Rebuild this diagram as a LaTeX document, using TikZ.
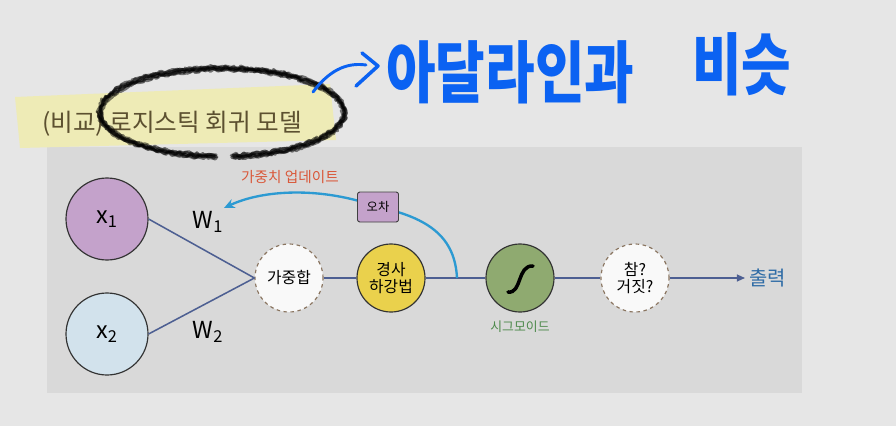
\documentclass[tikz,border=0pt]{standalone}
\usepackage{fontspec}
\setmainfont{Noto Sans CJK KR}
\usetikzlibrary{arrows.meta, decorations.pathmorphing}

\definecolor{pagegray}{HTML}{E6E6E6}
\definecolor{panelgray}{HTML}{D9D9D9}
\definecolor{marker}{HTML}{EEEBB6}
\definecolor{titletext}{HTML}{5C5030}
\definecolor{penblue}{HTML}{0B62F2}
\definecolor{wireblue}{HTML}{4D5F92}
\definecolor{loopblue}{HTML}{2C9AD2}
\definecolor{xonefill}{HTML}{C4A2CB}
\definecolor{xtwofill}{HTML}{D2E2EC}
\definecolor{gdfill}{HTML}{EAD14C}
\definecolor{sigfill}{HTML}{8FAA70}
\definecolor{siggreen}{HTML}{4E8A4C}
\definecolor{updred}{HTML}{D9583A}
\definecolor{outblue}{HTML}{2F6CA6}
\definecolor{dashbrown}{HTML}{8A7560}

\tikzset{
  inputnode/.style={circle, draw=black!80, line width=1pt, minimum size=82*0.03cm, inner sep=0pt,
    font=\fontsize{20}{22}\selectfont},
  stepnode/.style={circle, draw=black!80, line width=1pt, minimum size=68*0.03cm, inner sep=0pt,
    font=\fontsize{13.5}{16}\selectfont, align=center},
  dashnode/.style={stepnode, draw=dashbrown, dashed, fill=white!95!gray},
  wire/.style={wireblue, line width=1.3pt},
  wlabel/.style={font=\fontsize{20}{22}\selectfont},
  scribble/.style={black, line width=2.4pt, opacity=0.5, line join=round, line cap=round,
    decorate, decoration={random steps, segment length=2pt, amplitude=1.3pt}}
}

\begin{document}
\begin{tikzpicture}[x=0.03cm, y=-0.03cm, thick]

    % --- Page and panel ---
    \fill[pagegray] (0,0) rectangle (896,426);
    \useasboundingbox (0,0) rectangle (896,426);
    \fill[panelgray] (47,147) rectangle (802,393);

    % --- Title with marker and scribbled ring ---
    \fill[marker] (15,97) -- (330,84) -- (336,140) -- (20,148) -- cycle;
    \node[text=titletext, font=\fontsize{21}{24}\selectfont] (title) at (172,124) {(비교) 로지스틱 회귀 모델};
    \foreach \dx/\dy in {0/0, 1.5/1, -1/1.5, 0.5/-1.2, -1.5/-0.5, 1/2} {
      \draw[scribble] (222+\dx,112+\dy) ++(93:122 and 44) arc[start angle=93, end angle=445, x radius=122, y radius=44];
    }

    % --- Handwritten note ---
    \coordinate (penstart) at (313,92);
    \coordinate (penend) at (366,65);
    \draw[penblue, line width=2.5pt, line cap=round] (penstart) .. controls (328,72) and (345,62) .. (penend);
    \draw[penblue, line width=3pt, line cap=round, line join=round] (362,53) -- (378,66) -- (356,86);
    \node[text=penblue, font=\fontsize{46}{50}\selectfont\bfseries, anchor=west, yscale=1.25] (note) at (382,72) {아달라인과};
    \node[text=penblue, font=\fontsize{46}{50}\selectfont\bfseries, anchor=west, yscale=1.25] (note2) at (688,64) {비슷};

    % --- Inputs ---
    \node[inputnode, fill=xonefill] (x1) at (107,219) {x\textsubscript{1}};
    \node[inputnode, fill=xtwofill] (x2) at (107,334) {x\textsubscript{2}};
    \node[wlabel] (w1) at (208,222) {W\textsubscript{1}};
    \node[wlabel] (w2) at (208,332) {W\textsubscript{2}};

    % --- Chain of steps ---
    \node[dashnode] (sum) at (289,278) {가중합};
    \node[stepnode, fill=gdfill] (gd) at (391,278) {경사\\[-2pt]하강법};
    \node[stepnode, fill=sigfill] (sig) at (520,278) {};
    \node[dashnode] (tf) at (635,278) {참?\\[-2pt]거짓?};
    \node[text=outblue, font=\fontsize{17}{20}\selectfont, anchor=west] (out) at (745,278) {출력};
    \node[text=siggreen, font=\fontsize{11}{13}\selectfont] (siglabel) at (520,327) {시그모이드};

    % sigmoid curve
    \begin{scope}[shift={(sig)}]
      \draw[black, line width=3pt, line cap=round] (-12,14) .. controls (2,16) and (-3,-13) .. (13,-12);
    \end{scope}

    % --- Wires ---
    \draw[wire] (x1.east) -- (sum.west);
    \draw[wire] (x2.east) -- (sum.west);
    \draw[wire] (sum) -- (gd);
    \draw[wire] (gd) -- (sig);
    \draw[wire] (sig) -- (tf);
    \draw[wire, -{Triangle[length=7pt, width=6pt]}] (tf) -- (out);

    % --- Feedback loop (error -> weight update) ---
    \coordinate (errc) at (378,207);
    \coordinate (fb) at (457,278);
    \coordinate (tip) at (224,208);
    \draw[loopblue, line width=2pt] (fb) .. controls (455,238) and (430,218) .. (errc);
    \draw[loopblue, line width=2pt, -{Stealth[length=9pt, width=8pt]}] (errc) .. controls (320,186) and (262,190) .. (tip);
    \node[draw=black!75, fill=xonefill, rounded corners=2pt, line width=0.8pt, minimum width=41*0.03cm,
      minimum height=30*0.03cm, inner sep=0pt, font=\fontsize{10.5}{12}\selectfont] (err) at (errc) {오차};
    \node[text=updred, font=\fontsize{12.5}{14}\selectfont] (upd) at (290,177) {가중치 업데이트};

\end{tikzpicture}
\end{document}
